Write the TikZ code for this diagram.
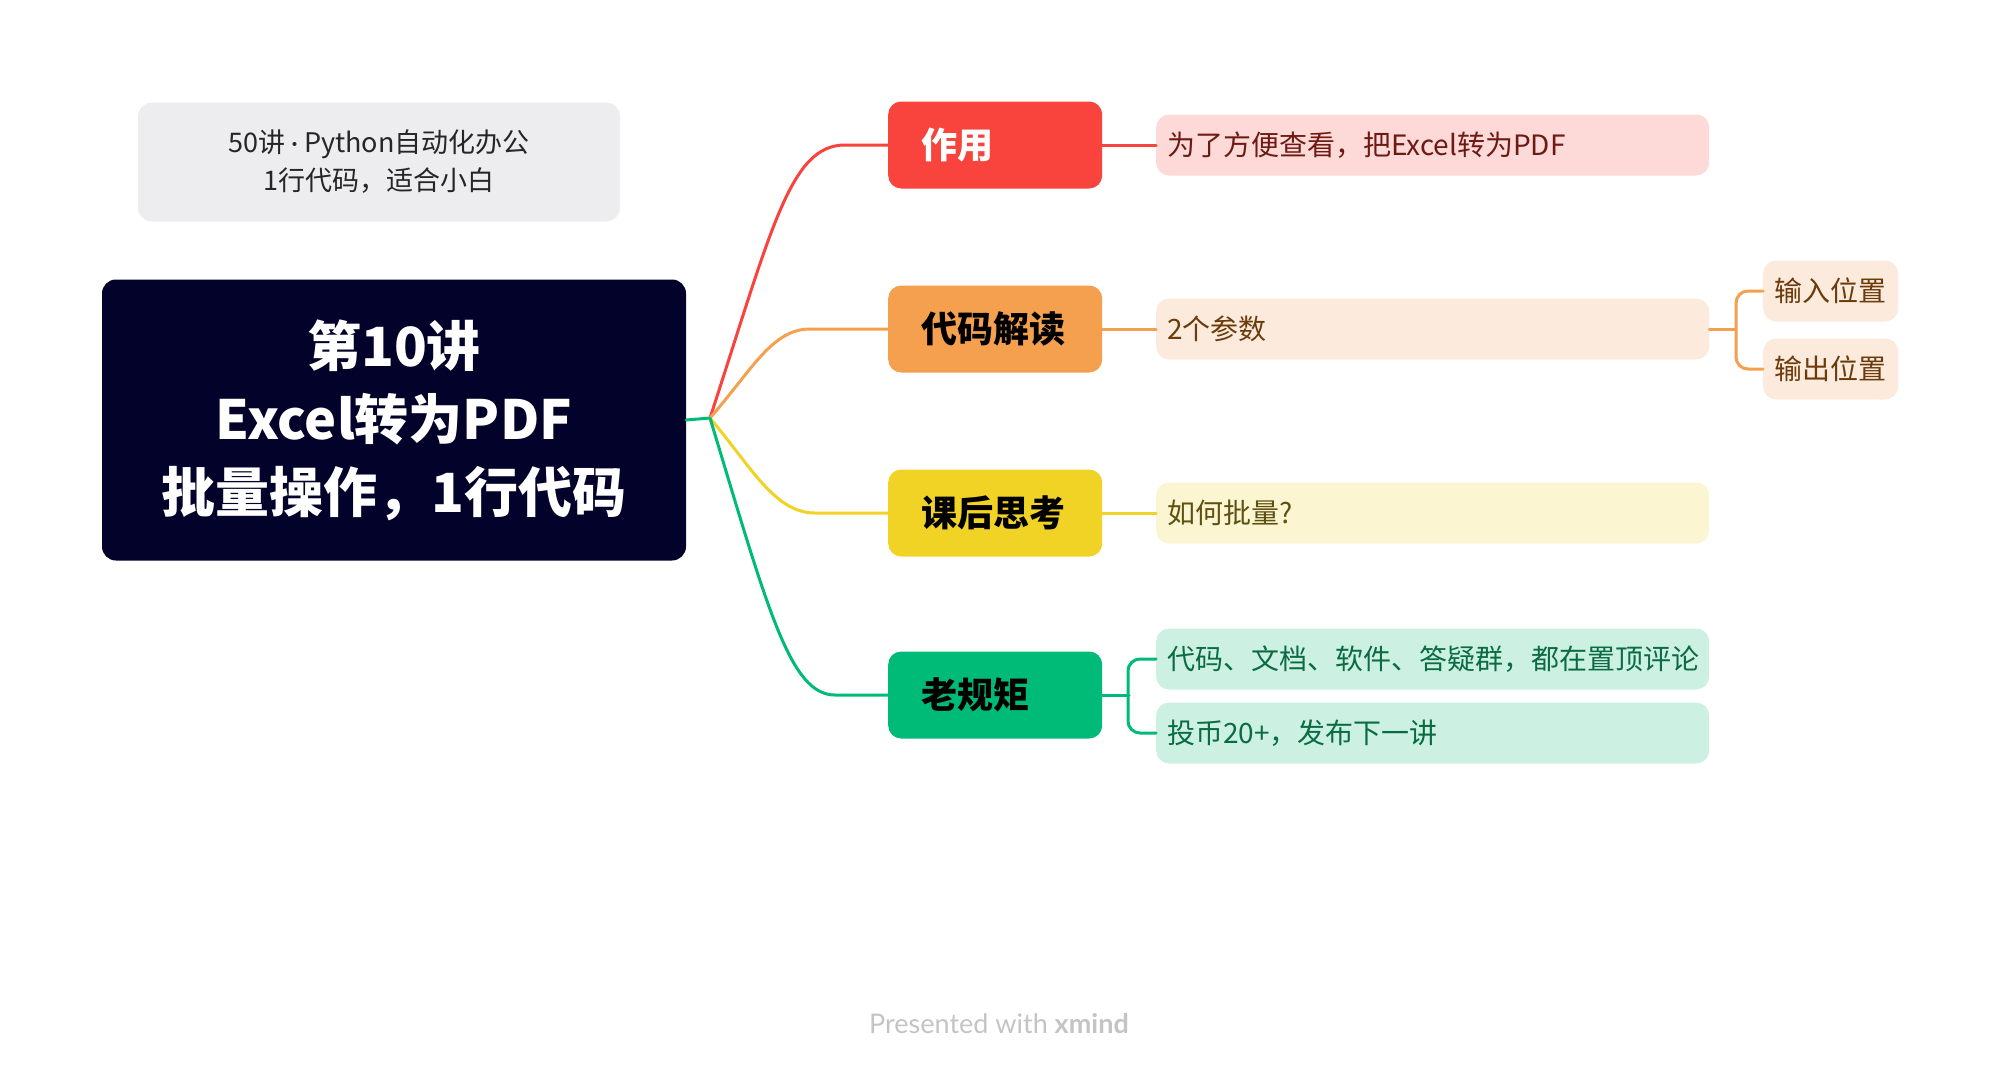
\documentclass[tikz,border=0pt]{standalone}
\usepackage{fontspec}
\setmainfont{Noto Sans CJK SC}
\newfontfamily\footfont{Lato}
\usetikzlibrary{calc}
\definecolor{cred}{HTML}{F8443C}
\definecolor{cora}{HTML}{F5A04E}
\definecolor{cyel}{HTML}{F1D325}
\definecolor{cgrn}{HTML}{00BB77}
\definecolor{lred}{HTML}{FDD9D7}
\definecolor{lora}{HTML}{FCEBDC}
\definecolor{lyel}{HTML}{FBF5D1}
\definecolor{lgrn}{HTML}{CCF1E3}
\definecolor{tred}{HTML}{6E1A14}
\definecolor{tora}{HTML}{6B3B0C}
\definecolor{tyel}{HTML}{5E5110}
\definecolor{tgrn}{HTML}{0B6B42}
\definecolor{subfill}{HTML}{EDECEF}
\definecolor{navy}{HTML}{02022A}
\definecolor{footgray}{HTML}{C4C4C4}
\begin{document}
\begin{tikzpicture}[x=1pt,y=-1pt,
  branchbox/.style={draw=none, rounded corners=13pt, anchor=west, minimum height=87pt,
    text width=148pt, inner xsep=33pt, align=left,
    font=\fontsize{36pt}{42pt}\selectfont\bfseries},
  leafbox/.style={draw=none, rounded corners=13pt, anchor=west, minimum height=61pt,
    text width=531pt, inner xsep=11pt, align=left,
    font=\fontsize{28pt}{34pt}\selectfont},
  subbox/.style={draw=none, rounded corners=13pt, anchor=west, minimum height=61pt,
    text width=113pt, inner xsep=11pt, align=left,
    font=\fontsize{28pt}{34pt}\selectfont},
  link/.style={line width=3pt, line cap=round}
]
\useasboundingbox (0,0) rectangle (2000,1076);
\fill[white] (0,0) rectangle (2000,1076);

% subtitle
\node[fill=subfill, rounded corners=14pt, minimum width=482pt, minimum height=119pt,
  align=center, text=black!85, font=\fontsize{27pt}{38pt}\selectfont] (sub) at (379,162)
  {50讲 {\footfont ·} Python自动化办公\\1行代码，适合小白};

% root
\node[fill=navy, rounded corners=14pt, minimum width=584pt, minimum height=281pt,
  align=center, text=white, font=\fontsize{54pt}{73pt}\selectfont\bfseries] (root) at (394,420)
  {第10讲\\Excel转为PDF\\批量操作，1行代码};

\coordinate (F) at (710,418);

% branches
\node[branchbox, fill=cred, text=white] (b1) at (888,145) {作用};
\node[branchbox, fill=cora, text=black] (b2) at (888,329) {代码解读};
\node[branchbox, fill=cyel, text=black] (b3) at (888,513) {课后思考};
\node[branchbox, fill=cgrn, text=black] (b4) at (888,695) {老规矩};

% leaves
\node[leafbox, fill=lred, text=tred] (l1) at (1156,145) {为了方便查看，把Excel转为PDF};
\node[leafbox, fill=lora, text=tora] (l2) at (1156,329) {2个参数};
\node[leafbox, fill=lyel, text=tyel] (l3) at (1156,513) {如何批量?};
\node[leafbox, fill=lgrn, text=tgrn] (l4a) at (1156,659) {代码、文档、软件、答疑群，都在置顶评论};
\node[leafbox, fill=lgrn, text=tgrn] (l4b) at (1156,733) {投币20+，发布下一讲};

% sub leaves
\node[subbox, fill=lora, text=tora] (s1) at (1763,291) {输入位置};
\node[subbox, fill=lora, text=tora] (s2) at (1763,369) {输出位置};

% root to fork
\draw[link, cgrn] (root.east) -- (F);
% curves
\draw[link, cred] (F) .. controls (772,228) and (790,145) .. (845,145) -- (b1.west);
\draw[link, cora] (F) .. controls (752,370) and (772,329) .. (810,329) -- (b2.west);
\draw[link, cyel] (F) .. controls (752,468) and (775,513) .. (815,513) -- (b3.west);
\draw[link, cgrn] (F) .. controls (768,610) and (790,695) .. (835,695) -- (b4.west);

% branch to leaf
\draw[link, cred] (b1.east) -- (l1.west);
\draw[link, cora] (b2.east) -- (l2.west);
\draw[link, cyel] (b3.east) -- (l3.west);
\draw[link, cgrn] (b4.east) -- ($(b4.east)!0.5!(b4.east -| l4a.west)$);
\draw[link, cgrn, rounded corners=12pt] (l4a.west) -- ++(-28,0) |- (l4b.west);
\draw[link, cora] (l2.east) -- ($(l2.east)!0.5!(l2.east -| s1.west)$);
\draw[link, cora, rounded corners=12pt] (s1.west) -- ++(-27,0) |- (s2.west);

% footer
\node[text=footgray, font=\footfont\fontsize{27pt}{32pt}\selectfont] (foot) at (999,1024)
  {Presented with \textbf{xmind}};
\end{tikzpicture}
\end{document}
